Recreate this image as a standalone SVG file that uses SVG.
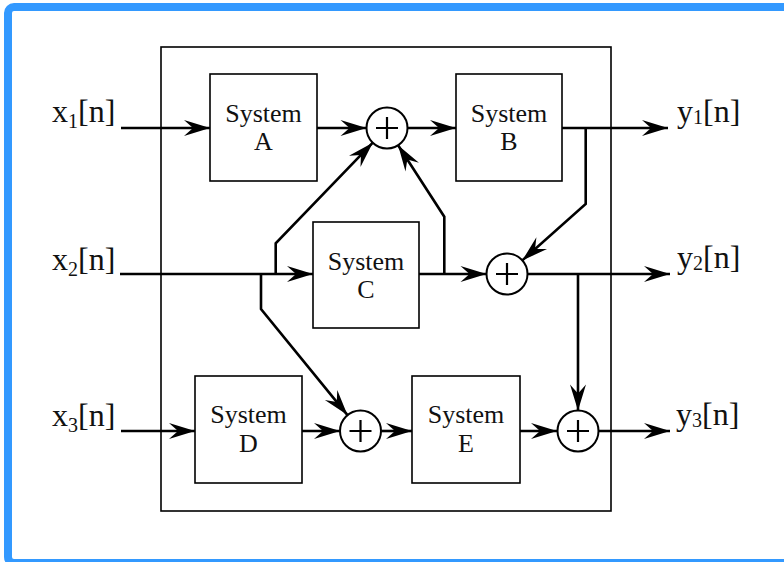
<svg xmlns="http://www.w3.org/2000/svg" width="784" height="562" viewBox="0 0 784 562">
<defs>
<marker id="ah" markerUnits="userSpaceOnUse" markerWidth="30" markerHeight="20" viewBox="-28 -10 30 20" refX="0" refY="0" orient="auto">
<path d="M0,0 L-26,-8 L-17,0 L-26,8 Z" fill="#000"/>
</marker>
<style>
.frame{fill:none;stroke:#3399ff;stroke-width:8}
.outer{fill:none;stroke:#000;stroke-width:1.6}
.box{fill:#fff;stroke:#000;stroke-width:1.6}
.sum{fill:#fff;stroke:#000;stroke-width:2}
.plus{stroke:#000;stroke-width:2.2}
.wire{fill:none;stroke:#000;stroke-width:2.6;stroke-linejoin:miter}
.arr{marker-end:url(#ah)}
text{font-family:'Liberation Serif','Times New Roman',Times,serif}
.lbl{font-size:32px;fill:#111}
.sys{font-size:26px;fill:#111;text-anchor:middle}
</style>
</defs>
<rect class="frame" x="8" y="7" width="800" height="556" rx="6"/>
<rect class="outer" x="161" y="47" width="450" height="464"/>

<g id="connectors">
<path class="wire arr" d="M121,128 H210"/>
<path class="wire arr" d="M317,128 H366.5"/>
<path class="wire arr" d="M407.5,128 H456"/>
<path class="wire arr" d="M562,128 H668"/>
<path class="wire arr" d="M585.7,128 V204 L522.3,260.4"/>
<path class="wire arr" d="M120,274 H313"/>
<path class="wire arr" d="M275.7,274 V243.3 L372.8,142.7"/>
<path class="wire arr" d="M261,274 V309 L347.5,415.1"/>
<path class="wire arr" d="M419,274 H486.5"/>
<path class="wire arr" d="M444.3,274 V216.7 L398.1,145.2"/>
<path class="wire arr" d="M527.5,274 H670"/>
<path class="wire arr" d="M578,274 V410.5"/>
<path class="wire arr" d="M121,431 H195"/>
<path class="wire arr" d="M302,431 H340"/>
<path class="wire arr" d="M381,431 H412"/>
<path class="wire arr" d="M520,431 H557"/>
<path class="wire arr" d="M598,431 H670"/>
</g>

<g id="sysA" font-family="Liberation Serif, serif"><rect class="box" x="210" y="74" width="107" height="107"/><text class="sys" x="263.5" y="122">System</text><text class="sys" x="263.5" y="150">A</text></g>
<g id="sysB" font-family="Liberation Serif, serif"><rect class="box" x="456" y="74" width="106" height="107"/><text class="sys" x="509" y="122">System</text><text class="sys" x="509" y="150">B</text></g>
<g id="sysC" font-family="Liberation Serif, serif"><rect class="box" x="313" y="222" width="106" height="106"/><text class="sys" x="366" y="270">System</text><text class="sys" x="366" y="298">C</text></g>
<g id="sysD" font-family="Liberation Serif, serif"><rect class="box" x="195" y="376" width="107" height="107"/><text class="sys" x="248.5" y="423">System</text><text class="sys" x="248.5" y="452">D</text></g>
<g id="sysE" font-family="Liberation Serif, serif"><rect class="box" x="412" y="376" width="108" height="107"/><text class="sys" x="466" y="423">System</text><text class="sys" x="466" y="452">E</text></g>

<g id="sum1"><circle class="sum" cx="387" cy="128" r="20.5"/><path class="plus" d="M376,128 H398 M387,117 V139"/></g>
<g id="sum2"><circle class="sum" cx="507" cy="274" r="20.5"/><path class="plus" d="M496,274 H518 M507,263 V285"/></g>
<g id="sum3"><circle class="sum" cx="360.5" cy="431" r="20.5"/><path class="plus" d="M349.5,431 H371.5 M360.5,420 V442"/></g>
<g id="sum4"><circle class="sum" cx="578" cy="431" r="20.5"/><path class="plus" d="M567,431 H589 M578,420 V442"/></g>

<g id="in1"><text class="lbl" x="52" y="122">x<tspan font-size="20" dy="6">1</tspan><tspan dy="-6">[n]</tspan></text></g>
<g id="in2"><text class="lbl" x="52" y="270">x<tspan font-size="20" dy="6">2</tspan><tspan dy="-6">[n]</tspan></text></g>
<g id="in3"><text class="lbl" x="52" y="426">x<tspan font-size="20" dy="6">3</tspan><tspan dy="-6">[n]</tspan></text></g>
<g id="out1"><text class="lbl" x="677" y="122">y<tspan font-size="20" dy="2">1</tspan><tspan dy="-2">[n]</tspan></text></g>
<g id="out2"><text class="lbl" x="677" y="268">y<tspan font-size="20" dy="2">2</tspan><tspan dy="-2">[n]</tspan></text></g>
<g id="out3"><text class="lbl" x="676" y="425">y<tspan font-size="20" dy="2">3</tspan><tspan dy="-2">[n]</tspan></text></g>
</svg>
